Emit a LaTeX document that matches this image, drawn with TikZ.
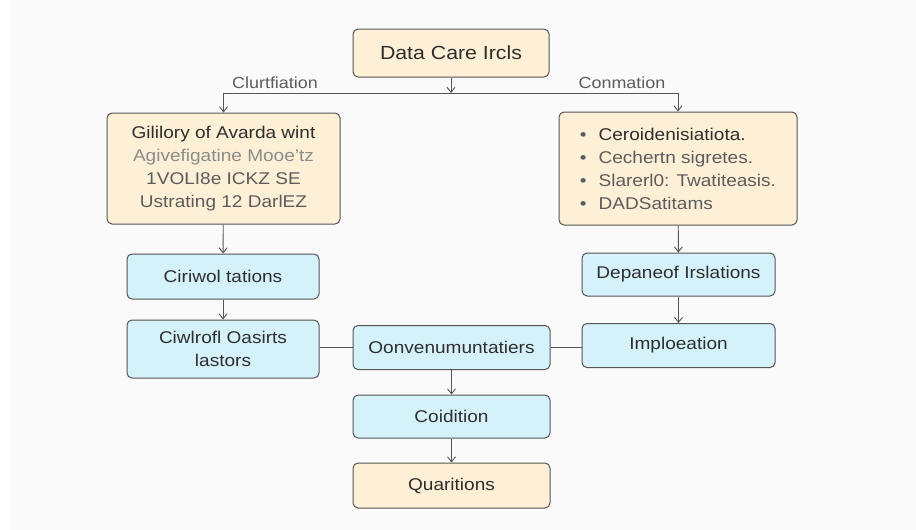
\documentclass[tikz,border=0pt]{standalone}
\usepackage{fontspec}
\setmainfont{Liberation Sans}[FakeStretch=1.12]
\usetikzlibrary{arrows.meta}
\definecolor{cream}{HTML}{FDF0D6}
\definecolor{sky}{HTML}{D5F2FA}
\definecolor{edge}{HTML}{555555}
\definecolor{ink}{HTML}{2E2E2E}
\definecolor{soft}{HTML}{5C5C5C}
\definecolor{faint}{HTML}{8C8C8C}
\begin{document}
\begin{tikzpicture}[x=1pt,y=-1pt,
  box/.style={draw=edge, line width=1pt, rounded corners=5pt, inner sep=0pt,
    text=ink, align=center, font=\fontsize{17}{23}\selectfont},
  warm/.style={box, fill=cream},
  cool/.style={box, fill=sky},
  arr/.style={draw=edge, line width=0.9pt, -{Straight Barb[length=5pt,width=8pt]}},
  link/.style={draw=edge, line width=0.9pt},
  tag/.style={text=soft, font=\fontsize{16}{18}\selectfont, inner sep=0pt}]
\useasboundingbox (0,0) rectangle (916,530);
\fill[white] (0,0) rectangle (916,530);
\fill[black!2] (10,0) rectangle (916,530);

% top of the tree
\node[warm, minimum width=196pt, minimum height=48pt,
  font=\fontsize{19}{22}\selectfont] (top) at (451,53) {Data Care Ircls};
\coordinate (j) at (451,93);

% two main branches
\node[warm, minimum width=233pt, minimum height=111pt] (left) at (223.5,168.5)
  {Gililory of Avarda wint\\
   \textcolor{faint}{Agivefigatine Mooe'tz}\\
   \textcolor{soft}{1VOLI8e ICKZ SE}\\
   \textcolor{soft}{Ustrating 12 DarlEZ}};
\node[warm, minimum width=238pt, minimum height=113pt, align=left] (right) at (678,168.5)
  {\textcolor{soft}{\textbullet}\hspace{12pt}Ceroidenisiatiota.\\
   \textcolor{soft}{\textbullet\hspace{12pt}Cechertn sigretes.}\\
   \textcolor{soft}{\textbullet\hspace{12pt}Slarerl0: Twatiteasis.}\\
   \textcolor{soft}{\textbullet\hspace{12pt}DADSatitams}};

\node[tag] (lblL) at (275,83) {Clurtfiation};
\node[tag] (lblR) at (622,83) {Conmation};

% left column
\node[cool, minimum width=192pt, minimum height=45pt] (ciri) at (223,276.5) {Ciriwol tations};
\node[cool, minimum width=192pt, minimum height=58pt] (ciwl) at (223,349) {Ciwlrofl Oasirts\\lastors};

% middle column
\node[cool, minimum width=197pt, minimum height=44pt] (conv) at (451.5,347.5) {Oonvenumuntatiers};
\node[cool, minimum width=197pt, minimum height=43pt] (coid) at (451.5,416.5) {Coidition};
\node[warm, minimum width=197pt, minimum height=45pt] (quar) at (451.5,485.5) {Quaritions};

% right column
\node[cool, minimum width=193pt, minimum height=43pt] (depan) at (678.5,274.5) {Depaneof Irslations};
\node[cool, minimum width=193pt, minimum height=44pt] (implo) at (678.5,345.5) {Imploeation};

% connectors
\draw[arr] (top) -- (j);
\draw[arr] (j) -| (left.north);
\draw[arr] (j) -| (right.north);
\draw[arr] (left) -- (ciri);
\draw[arr] (ciri) -- (ciwl);
\draw[arr] (right) -- (depan);
\draw[arr] (depan) -- (implo);
\draw[arr] (conv) -- (coid);
\draw[arr] (coid) -- (quar);
\draw[link] (ciwl.east |- conv.west) -- (conv.west);
\draw[link] (conv.east) -- (conv.east -| implo.west);
\end{tikzpicture}
\end{document}
